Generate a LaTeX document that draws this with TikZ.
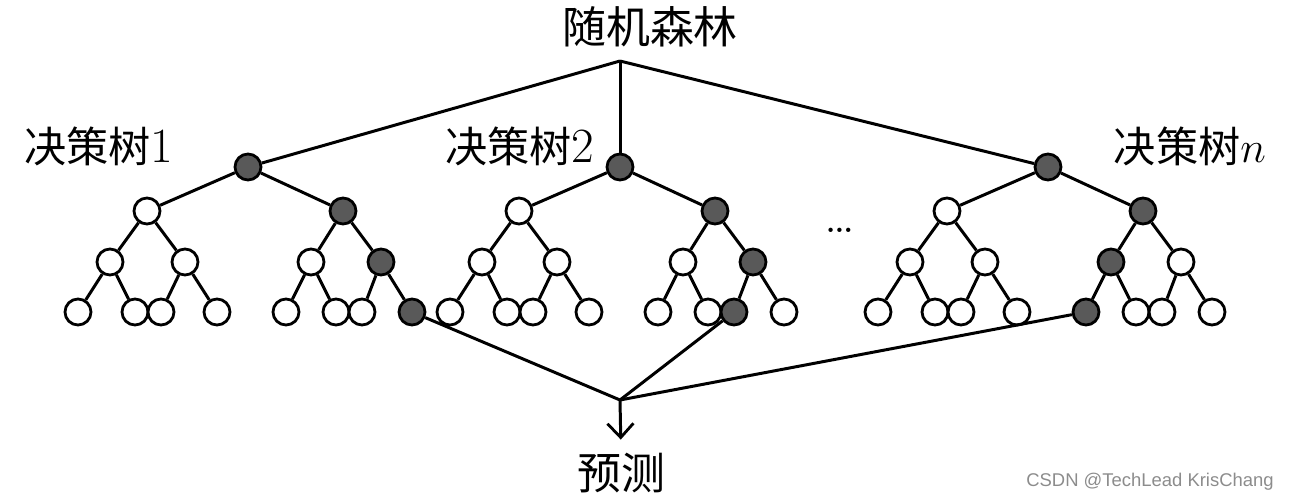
\documentclass[tikz,border=0pt]{standalone}
\usepackage{fontspec}
\newfontfamily\cjk{Noto Sans CJK SC}
\newfontfamily\wmfont{Liberation Sans}
\usepackage{tikz}
\usetikzlibrary{arrows.meta}

\tikzset{
  tnode/.style={circle, draw=black, fill=white, line width=1.6pt, minimum size=0.52cm, inner sep=0pt},
  hl/.style={fill=black!65},
  bigtext/.style={font=\fontsize{24}{30}\selectfont, inner sep=0pt},
  arr/.style={-{Straight Barb[length=0.28cm, width=0.52cm, line width=1.6pt]}},
}
\newcommand{\lat}[1]{{\fontsize{28}{30}\selectfont #1}}

\begin{document}
\begin{tikzpicture}[x=0.02cm, y=-0.02cm, line width=1.7pt]
    \useasboundingbox (0,0) rectangle (1291,500);
    \foreach \t/\x/\g in {a/248/7, b/620/6, c/1048/4} {
      \foreach \k/\y/\offs in {0/167/{0}, 1/211/{-101,95}, 2/262/{-138,-63,63,133}, 3/312/{-170,-113,-87,-31,38,88,114,164}} {
        \foreach \dx [count=\i from 0] in \offs {
          \pgfmathtruncatemacro\hit{\i==floor(\g/2^(3-\k))}
          \ifnum\hit=1
            \node[tnode, hl] (\t\k\i) at (\x+\dx,\y) {};
          \else
            \node[tnode] (\t\k\i) at (\x+\dx,\y) {};
          \fi
        }
      }
      \foreach \k/\n in {1/1, 2/3, 3/7} {
        \foreach \i in {0,...,\n} {
          \pgfmathtruncatemacro\pk{\k-1}
          \pgfmathtruncatemacro\pidx{\i/2}
          \draw (\t\pk\pidx) -- (\t\k\i);
        }
      }
    }
    \node[bigtext, font=\fontsize{25}{30}\selectfont] (forest) at (650,27) {\cjk 随机森林};
    \coordinate (top) at (620,61);
    \draw (top) -- (a00);
    \draw (top) -- (b00);
    \draw (top) -- (c00);
    \node[bigtext] (lab1) at (99,146) {{\cjk 决策树}\lat{1}};
    \node[bigtext] (lab2) at (520,146) {{\cjk 决策树}\lat{2}};
    \node[bigtext] (lab3) at (1190,146) {{\cjk 决策树}\lat{$n$}};
    \node[font=\fontsize{30}{32}\selectfont] (dots) at (840,230) {\dots};
    \coordinate (join) at (620,400);
    \draw (a37) -- (join);
    \draw (b36) -- (join);
    \draw (c34) -- (join);
    \node[bigtext, font=\fontsize{25}{30}\selectfont] (pred) at (621,473) {\cjk 预测};
    \draw[arr, shorten >=0.24cm] (join) -- (pred.north);
    \node[font=\wmfont\fontsize{10.5}{12}\selectfont, text=black!45] (mark) at (1150,482) {CSDN @TechLead KrisChang};
  \end{tikzpicture}
\end{document}
